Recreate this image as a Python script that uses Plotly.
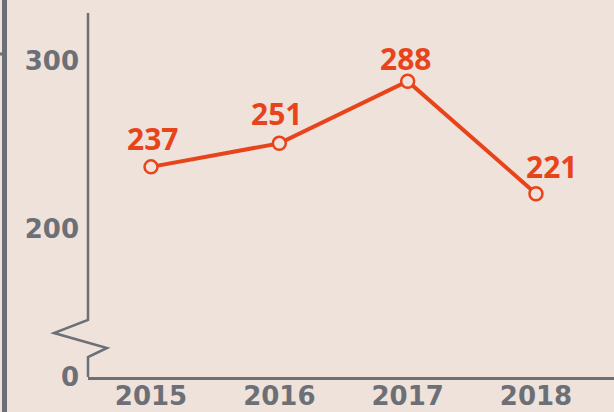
import plotly.graph_objects as go

years = ['2015', '2016', '2017', '2018']
values = [237, 251, 288, 221]
label_shift_x = [1, -3, -2, 16]
label_shift_y = [28, 30, 23, 27]

y_tickvals = [111.9, 200, 300]
y_ticktext = ['0', '200', '300']

bg = '#eee2da'
red = '#e8441c'
grey = '#6c6f76'

W, H = 614, 412
L, R, T, B = 88, 0, 13, 35
pw, ph = W - L - R, H - T - B


def px(x, y):
    # pixel position -> paper coords
    return (x - L) / pw, (H - B - y) / ph


fig = go.Figure()
fig.add_trace(go.Scatter(
    x=years, y=values,
    mode='lines+markers',
    line=dict(color=red, width=4),
    marker=dict(size=13, color=bg, line=dict(color=red, width=2.5)),
    hoverinfo='skip'
))

for i, (v, dx, dy) in enumerate(zip(values, label_shift_x, label_shift_y)):
    fig.add_annotation(x=i, y=v, xref='x', yref='y', text=str(v), showarrow=False,
                       xshift=dx, yshift=dy,
                       font=dict(family='Noto Sans', size=30, color=red, weight='bold'))

# broken y axis line with zigzag
pts = [(88, 13), (88, 320), (54, 333), (107, 348), (88, 357), (88, 377)]
path = ''
for i, (a, b) in enumerate(pts):
    xp, yp = px(a, b)
    path += ('M' if i == 0 else 'L') + f'{xp:.4f},{yp:.4f} '
fig.add_shape(type='path', path=path.strip(), xref='paper', yref='paper',
              line=dict(color=grey, width=2.5))

# frame bar on the far left
x0, y0 = px(4.5, 0)
x1, y1 = px(4.5, 412)
fig.add_shape(type='line', xref='paper', yref='paper', x0=x0, y0=y0, x1=x1, y1=y1,
              line=dict(color=grey, width=5))
sx0, sy = px(0, 54)
sx1, _ = px(3, 54)
fig.add_shape(type='line', xref='paper', yref='paper', x0=sx0, y0=sy, x1=sx1, y1=sy,
              line=dict(color=grey, width=3))

fig.update_xaxes(type='category', range=[-0.491, 3.608], showgrid=False, zeroline=False,
                 showline=True, linecolor=grey, linewidth=3, ticks='',
                 automargin=False, ticklabelstandoff=-6,
                 tickfont=dict(family='DejaVu Sans', size=26, color=grey, weight='bold'))
fig.update_yaxes(range=[111.9, 328.6], showgrid=False, zeroline=False, showline=False,
                 tickvals=y_tickvals, ticktext=y_ticktext, ticks='',
                 automargin=False, ticklabelstandoff=8,
                 tickfont=dict(family='DejaVu Sans', size=26, color=grey, weight='bold'))

fig.update_layout(
    width=W, height=H,
    margin=dict(l=L, r=R, t=T, b=B),
    paper_bgcolor=bg, plot_bgcolor=bg,
    showlegend=False
)

fig.write_html('out.html', config={'displayModeBar': False},
               post_script="document.body.style.margin='0';")
